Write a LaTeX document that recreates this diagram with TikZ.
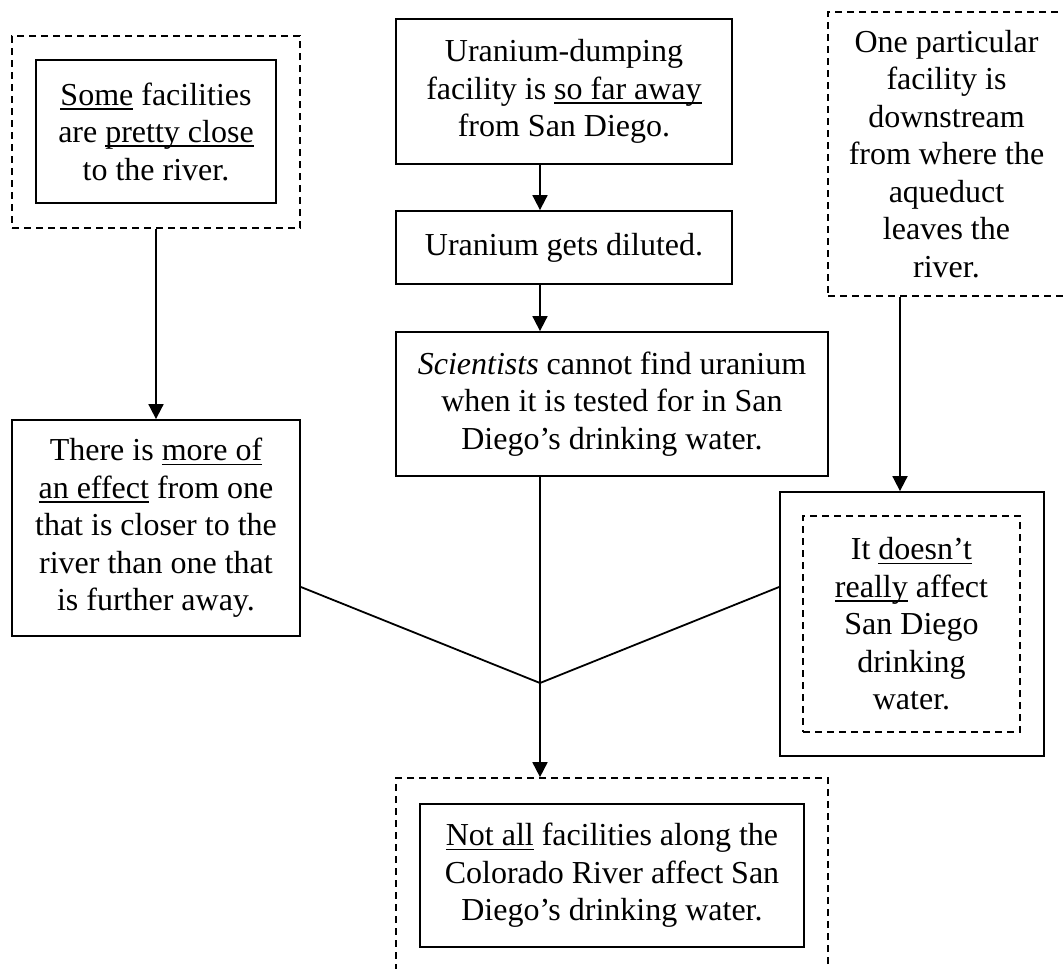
\documentclass[tikz,border=0pt]{standalone}
\usepackage{fontspec}
\setmainfont{Liberation Serif}
\usetikzlibrary{arrows.meta}

% underline at a fixed depth below the baseline (crosses descenders)
\newsavebox\ulbox
\newcommand\ulword[1]{\sbox\ulbox{#1}\rlap{\rule[-4.5pt]{\wd\ulbox}{1.6pt}}\usebox\ulbox}

\begin{document}
\begin{tikzpicture}[x=1pt,y=-1pt,
  txt/.style={font=\fontsize{32}{37.5}\selectfont, align=center, inner sep=0pt},
  solidbox/.style={txt, draw, line width=1.8pt, rectangle},
  dashbox/.style={draw, line width=1.7pt, rectangle, inner sep=0pt, dash pattern=on 7pt off 5pt},
  link/.style={line width=1.8pt},
  arrow/.style={link, -{Triangle[length=15pt,width=15pt]}}]

\useasboundingbox (0,0) rectangle (1063,969);
\clip (0,0) rectangle (1063,969);

% guide positions for the two vertical spines and the joining height
\coordinate (spine) at (540,0);
\coordinate (rspine) at (900,0);
\coordinate (jl) at (0,587);
\coordinate (meet) at (540,683);

% left column
\node[dashbox, minimum width=288, minimum height=192] (closeframe) at (156,132) {};
\node[solidbox, minimum width=240, minimum height=143] (close) at (156,131.5)
  {\ulword{Some} facilities\\are \ulword{pretty close}\\to the river.};
\node[solidbox, minimum width=288, minimum height=216] (effect) at (156,528)
  {There is \ulword{more of}\\\ulword{an effect} from one\\that is closer to the\\river than one that\\is further away.};

% middle column
\node[solidbox, minimum width=336, minimum height=145] (far) at (564,91.5)
  {Uranium-dumping\\facility is \ulword{so far away}\\from San Diego.};
\node[solidbox, minimum width=336, minimum height=73] (diluted) at (564,247.5)
  {Uranium gets diluted.};
\node[solidbox, minimum width=432, minimum height=144] (cannot) at (612,404)
  {\textit{Scientists} cannot find uranium\\when it is tested for in San\\Diego’s drinking water.};

% right column
\node[dashbox, txt, minimum width=237, minimum height=284] (downstream) at (946.5,154)
  {One particular\\facility is\\downstream\\from where the\\aqueduct\\leaves the\\river.};
\node[draw, line width=1.8pt, rectangle, minimum width=264, minimum height=264] (notreallyframe) at (912,624) {};
\node[dashbox, txt, minimum width=217, minimum height=216] (notreally) at (911.5,624)
  {It \ulword{doesn’t}\\\ulword{really} affect\\San Diego\\drinking\\water.};

% conclusion
\node[dashbox, minimum width=432, minimum height=222] (allframe) at (612,889) {};
\node[solidbox, minimum width=384, minimum height=143] (notall) at (612,875.5)
  {\ulword{Not all} facilities along the\\Colorado River affect San\\Diego’s drinking water.};

% connectors
\draw[arrow] (closeframe.south) -- (effect.north);
\draw[arrow] (far.south -| spine) -- (diluted.north -| spine);
\draw[arrow] (diluted.south -| spine) -- (cannot.north -| spine);
\draw[arrow] (downstream.south -| rspine) -- (notreallyframe.north -| rspine);
\draw[arrow] (cannot.south -| spine) -- (allframe.north -| spine);
\draw[link] (effect.east |- jl) -- (meet);
\draw[link] (notreallyframe.west |- jl) -- (meet);

\end{tikzpicture}
\end{document}
